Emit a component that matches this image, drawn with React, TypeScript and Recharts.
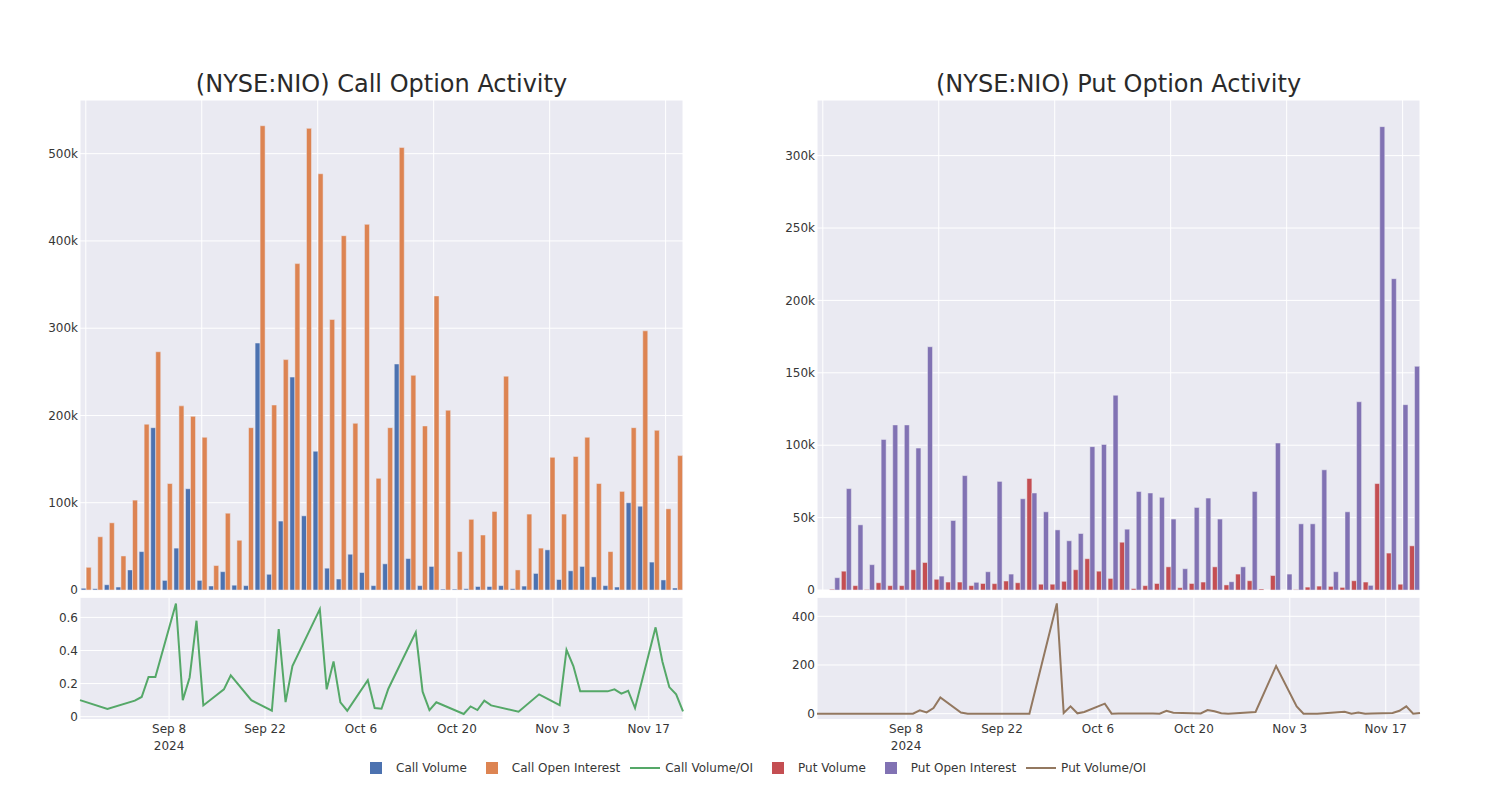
import React from 'react';
import { BarChart, Bar, LineChart, Line, XAxis, YAxis, CartesianGrid } from 'recharts';

const FONT = "'DejaVu Sans', sans-serif";
const INK = '#363636';
const PANEL = '#EAEAF2';

// trading days shared by both panels
const tradeDays = [
  '2024-08-26', '2024-08-30', '2024-09-03', '2024-09-04', '2024-09-05', '2024-09-06',
  '2024-09-09', '2024-09-10', '2024-09-11', '2024-09-12', '2024-09-13', '2024-09-16',
  '2024-09-17', '2024-09-20', '2024-09-23', '2024-09-24', '2024-09-25', '2024-09-26',
  '2024-09-30', '2024-10-01', '2024-10-02', '2024-10-03', '2024-10-04', '2024-10-07',
  '2024-10-08', '2024-10-09', '2024-10-10', '2024-10-14', '2024-10-15', '2024-10-16',
  '2024-10-17', '2024-10-21', '2024-10-22', '2024-10-23', '2024-10-24', '2024-10-25',
  '2024-10-29', '2024-11-01', '2024-11-04', '2024-11-05', '2024-11-06', '2024-11-07',
  '2024-11-11', '2024-11-12', '2024-11-13', '2024-11-14', '2024-11-15', '2024-11-18',
  '2024-11-19', '2024-11-20', '2024-11-21', '2024-11-22',
];

const callVolume = [
  2000, 1500, 6000, 3400, 23000, 44000, 186000, 11000, 48000, 116000,
  11000, 4600, 21000, 5500, 5000, 283000, 18000, 79000, 244000, 85000,
  159000, 25000, 12600, 41000, 20000, 5000, 30000, 259000, 36000, 5000,
  27000, 1000, 1000, 1500, 4000, 4000, 5000, 1500, 4500, 19000,
  46000, 12000, 22000, 27000, 15000, 5000, 3400, 100000, 96000, 32000,
  11500, 2300,
];
const callOpenInterest = [
  26000, 61000, 77000, 39000, 103000, 190000, 273000, 122000, 211000, 199000,
  175000, 28000, 88000, 57000, 186000, 532000, 212000, 264000, 374000, 529000,
  477000, 310000, 406000, 191000, 419000, 128000, 186000, 507000, 246000, 188000,
  337000, 206000, 44000, 81000, 63000, 90000, 245000, 23000, 87000, 48000,
  152000, 87000, 153000, 175000, 122000, 44000, 113000, 186000, 297000, 183000,
  93000, 154000,
];
const callRatio = [
  0.1, 0.046, 0.097, 0.119, 0.24, 0.24, 0.684, 0.1, 0.237, 0.58,
  0.068, 0.165, 0.25, 0.1, 0.036, 0.53, 0.088, 0.306, 0.65, 0.165,
  0.334, 0.087, 0.036, 0.22, 0.052, 0.048, 0.169, 0.51, 0.151, 0.04,
  0.087, 0.016, 0.062, 0.04, 0.097, 0.068, 0.03, 0.135, 0.07, 0.404,
  0.306, 0.153, 0.153, 0.165, 0.139, 0.157, 0.052, 0.54, 0.332, 0.179,
  0.135, 0.032,
];

const putVolume = [
  0, 500, 13000, 3000, 300, 5000, 3000, 3000, 14000, 19000,
  7400, 5500, 5500, 3000, 4500, 4400, 6200, 5000, 77000, 4000,
  4000, 6000, 14000, 21600, 13000, 8000, 33000, 1000, 3000, 4500,
  16000, 1600, 4500, 5500, 16000, 3500, 11000, 6400, 700, 10000,
  0, 300, 2000, 2700, 2500, 1800, 6400, 5500, 73500, 25500,
  4000, 30500,
];
const putOpenInterest = [
  0, 8500, 70000, 45000, 17500, 104000, 114000, 114000, 98000, 168000,
  9600, 48000, 79000, 5300, 12600, 75000, 11000, 63000, 67000, 54000,
  41500, 34000, 39000, 99000, 100500, 134500, 42000, 68000, 67000, 64000,
  49000, 14700, 57000, 63500, 49000, 5700, 16000, 68000, 0, 101500,
  11000, 45700, 45700, 83000, 12600, 54000, 130000, 3200, 320000, 215000,
  128000, 154500,
];
const putRatio = [
  0, 0, 0, 0, 0, 0, 0, 14, 5, 23,
  67, 5, 0, 0, 0, 0, 0, 0, 453, 3,
  30, 1.4, 7, 41, 0, 1, 1, 0.5, 0, 12,
  4, 1, 15, 10, 2, 0, 7, 196, 30, 0,
  0, 0, 8, 0, 5, 0, 1, 3, 12, 30,
  0, 3,
];

const dateTicks = ['2024-09-08', '2024-09-22', '2024-10-06', '2024-10-20', '2024-11-03', '2024-11-17'];
const callBarTicks = [0, 100000, 200000, 300000, 400000, 500000];
const putBarTicks = [0, 50000, 100000, 150000, 200000, 250000, 300000];
const callRatioTicks = [0, 0.2, 0.4, 0.6];
const putRatioTicks = [0, 200, 400];

const MONTHS = ['Jan', 'Feb', 'Mar', 'Apr', 'May', 'Jun', 'Jul', 'Aug', 'Sep', 'Oct', 'Nov', 'Dec'];

const legendItems = [
  { name: 'Call Volume', color: '#4C72B0', kind: 'bar' },
  { name: 'Call Open Interest', color: '#DD8452', kind: 'bar' },
  { name: 'Call Volume/OI', color: '#55A868', kind: 'line' },
  { name: 'Put Volume', color: '#C44E52', kind: 'bar' },
  { name: 'Put Open Interest', color: '#8172B3', kind: 'bar' },
  { name: 'Put Volume/OI', color: '#937860', kind: 'line' },
];

const kFormat = (v: number) => (v === 0 ? '0' : `${v / 1000}k`);

// category ticks stay (for the vertical grid) but draw nothing
const NoTick = () => <g />;

function DateTick({ x, y, payload, index }: any) {
  const d = new Date(payload.value);
  const label = `${MONTHS[d.getUTCMonth()]} ${d.getUTCDate()}`;
  return (
    <g>
      <text x={x} y={y} dy={13} textAnchor="middle" fontSize={12} fill={INK}>{label}</text>
      {index === 0 && (
        <text x={x} y={y} dy={30} textAnchor="middle" fontSize={12} fill={INK}>{d.getUTCFullYear()}</text>
      )}
    </g>
  );
}

function BarPanel({ volume, openInterest, volColor, oiColor, yMax, yTicks }: any) {
  const rows = tradeDays.map((day, i) => ({ day, volume: volume[i], oi: openInterest[i] }));
  return (
    <BarChart
      width={700}
      height={600}
      data={rows}
      margin={{ top: 100, right: 17, bottom: 10, left: 10 }}
      barGap={0}
      barCategoryGap="10%"
    >
      <CartesianGrid fill={PANEL} fillOpacity={1} stroke="#fff" strokeWidth={1} />
      <XAxis dataKey="day" interval={9} height={0} tick={<NoTick />} tickLine={false} axisLine={false} />
      <YAxis
        width={70}
        domain={[0, yMax]}
        ticks={yTicks}
        tickFormatter={kFormat}
        tickLine={false}
        axisLine={false}
        tickSize={0}
        tickMargin={2}
        tick={{ fontSize: 12, fill: INK }}
      />
      <Bar dataKey="volume" fill={volColor} stroke={PANEL} strokeWidth={0.5} isAnimationActive={false} />
      <Bar dataKey="oi" fill={oiColor} stroke={PANEL} strokeWidth={0.5} isAnimationActive={false} />
    </BarChart>
  );
}

function RatioPanel({ ratio, color, yDomain, yTicks, fmt }: any) {
  const rows = tradeDays.map((day, i) => ({ t: Date.parse(day), ratio: ratio[i] }));
  const tickTimes = dateTicks.map((d) => Date.parse(d));
  return (
    <LineChart width={700} height={200} data={rows} margin={{ top: 37.3, right: 17, bottom: 0, left: 10 }}>
      <CartesianGrid fill={PANEL} fillOpacity={1} stroke="#fff" strokeWidth={1} />
      <XAxis
        type="number"
        dataKey="t"
        domain={[rows[0].t, rows[rows.length - 1].t]}
        ticks={tickTimes}
        interval={0}
        tick={<DateTick />}
        tickLine={false}
        axisLine={false}
        tickSize={0}
        tickMargin={0}
        height={40.5}
      />
      <YAxis
        width={70}
        domain={yDomain}
        ticks={yTicks}
        interval={0}
        tickFormatter={fmt}
        tickLine={false}
        axisLine={false}
        tickSize={0}
        tickMargin={2}
        tick={{ fontSize: 12, fill: INK }}
      />
      <Line type="linear" dataKey="ratio" stroke={color} strokeWidth={2} dot={false} isAnimationActive={false} />
    </LineChart>
  );
}

const titleStyle: React.CSSProperties = {
  position: 'absolute',
  top: 70,
  width: 603,
  height: 28,
  lineHeight: '28px',
  fontSize: 24,
  color: '#2a2a2a',
  textAlign: 'center',
};

export default function App() {
  return (
    <div style={{ position: 'absolute', left: 0, top: 0, width: 1500, height: 800, background: '#fff', fontFamily: FONT }}>
      <div style={{ position: 'absolute', left: 0, top: 0 }}>
        <BarPanel
          volume={callVolume}
          openInterest={callOpenInterest}
          volColor="#4C72B0"
          oiColor="#DD8452"
          yMax={561500}
          yTicks={callBarTicks}
        />
      </div>
      <div style={{ position: 'absolute', left: 737, top: 0 }}>
        <BarPanel
          volume={putVolume}
          openInterest={putOpenInterest}
          volColor="#C44E52"
          oiColor="#8172B3"
          yMax={338400}
          yTicks={putBarTicks}
        />
      </div>
      <div style={{ position: 'absolute', left: 0, top: 560 }}>
        <RatioPanel
          ratio={callRatio}
          color="#55A868"
          yDomain={[-0.017, 0.7215]}
          yTicks={callRatioTicks}
          fmt={(v: number) => (v === 0 ? '0' : v.toFixed(1))}
        />
      </div>
      <div style={{ position: 'absolute', left: 737, top: 560 }}>
        <RatioPanel
          ratio={putRatio}
          color="#937860"
          yDomain={[-24, 478]}
          yTicks={putRatioTicks}
          fmt={(v: number) => String(v)}
        />
      </div>

      <div style={{ ...titleStyle, left: 80 }}>(NYSE:NIO) Call Option Activity</div>
      <div style={{ ...titleStyle, left: 817 }}>(NYSE:NIO) Put Option Activity</div>

      <div
        style={{
          position: 'absolute',
          left: 356,
          top: 760,
          height: 16,
          display: 'flex',
          alignItems: 'center',
          fontSize: 12,
          color: INK,
          whiteSpace: 'nowrap',
        }}
      >
        {legendItems.map((item) => (
          <div key={item.name} style={{ display: 'flex', alignItems: 'center', marginRight: 5 }}>
            <div style={{ width: 40, height: 16, display: 'flex', alignItems: 'center', justifyContent: 'center' }}>
              {item.kind === 'bar' ? (
                <div style={{ width: 12, height: 12, background: item.color }} />
              ) : (
                <div style={{ width: 30, height: 2, background: item.color }} />
              )}
            </div>
            <span style={{ lineHeight: '16px' }}>{item.name}</span>
          </div>
        ))}
      </div>
    </div>
  );
}
